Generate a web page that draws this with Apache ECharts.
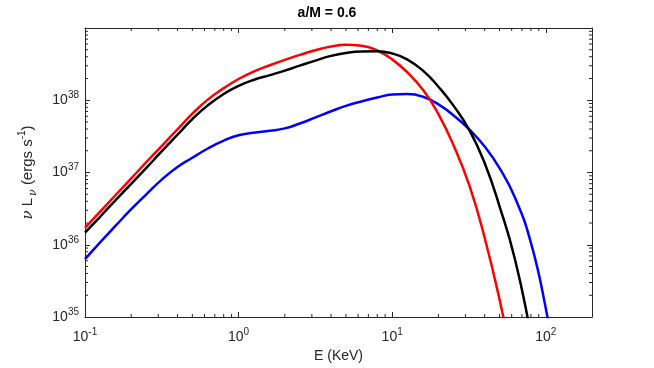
<!DOCTYPE html>
<html>
<head>
<meta charset="utf-8">
<script src="https://cdn.jsdelivr.net/npm/echarts@6/dist/echarts.min.js"></script>
<style>
  html, body { margin: 0; padding: 0; background: #fff; }
  #chart { width: 654px; height: 368px; }
</style>
</head>
<body>
<div id="chart"></div>
<script>
// photon energies (keV) shared by the three spectra
const energies = [0.1, 0.125, 0.16, 0.2, 0.25, 0.32, 0.4, 0.5, 0.63, 0.8, 1, 1.25, 1.6, 2, 2.5, 3.2, 4, 5, 6.3, 8, 10, 12.5, 16, 20, 25, 32, 40, 50, 63, 80, 100, 125]

// nu L_nu (erg/s)
const redValues = [1.71e36, 2.85e36, 5.0e36, 8.29e36, 1.38e37, 2.40e37, 3.95e37, 6.51e37, 1.02e38, 1.47e38, 1.97e38, 2.49e38, 3.05e38, 3.62e38, 4.24e38, 4.95e38, 5.53e38, 5.85e38, 5.70e38, 4.88e38, 3.68e38, 2.45e38, 1.36e38, 6.41e37, 2.43e37, 6.36e36, 1.25e36, 1.75e35, 1.58e34]
const blackValues = [1.47e36, 2.42e36, 4.24e36, 6.98e36, 1.15e37, 2.02e37, 3.33e37, 5.48e37, 8.49e37, 1.22e38, 1.58e38, 1.91e38, 2.23e38, 2.57e38, 3.01e38, 3.57e38, 4.11e38, 4.51e38, 4.73e38, 4.76e38, 4.44e38, 3.68e38, 2.53e38, 1.54e38, 8.49e37, 3.77e37, 1.35e37, 3.41e36, 6.31e35, 5.88e34, 5.66e33]
const blueValues = [6.31e35, 1.07e36, 1.88e36, 3.10e36, 4.95e36, 8.16e36, 1.19e37, 1.60e37, 2.15e37, 2.76e37, 3.28e37, 3.54e37, 3.77e37, 4.08e37, 4.76e37, 5.84e37, 7.04e37, 8.36e37, 9.62e37, 1.09e38, 1.20e38, 1.22e38, 1.11e38, 8.76e37, 6.21e37, 3.89e37, 2.29e37, 1.15e37, 4.51e36, 1.07e36, 1.32e35, 9.04e33]

// axis ranges and minor tick positions (2..9 in each decade)
const xRange = [0.1, 200]
const yRange = [1e35, 1e39]
const minorSteps = [2, 3, 4, 5, 6, 7, 8, 9]
const xDecades = [0.1, 1, 10, 100]
const yDecades = [1e35, 1e36, 1e37, 1e38]

const axisColor = '#262626'
const font = 'Liberation Sans, Arial, Helvetica, sans-serif'

const xMinor = []
xDecades.forEach(d => minorSteps.forEach(m => { if (d * m < xRange[1]) xMinor.push([d * m, yRange[0]]) }))
const yMinor = []
yDecades.forEach(d => minorSteps.forEach(m => { if (d * m < yRange[1]) yMinor.push([xRange[0], d * m]) }))

function pairs (xs, ys) {
  return ys.map((v, i) => [xs[i], v])
}

const topExp = Math.round(Math.log10(yRange[1]))

function powLabel (v) {
  const lg = Math.log10(v)
  const e = Math.round(lg)
  if (Math.abs(lg - e) > 1e-6) return ''
  if (e >= topExp) return ''
  return '{b|10}{s|' + e + '}'
}

const labelRich = {
  b: { fontSize: 14, lineHeight: 20, color: axisColor, fontFamily: font },
  s: { fontSize: 10, lineHeight: 10, verticalAlign: 'top', color: axisColor, fontFamily: font }
}

function baseAxis (extra) {
  return Object.assign({
    type: 'log',
    logBase: 10,
    axisLine: { show: true, lineStyle: { color: axisColor, width: 1 } },
    axisTick: { show: true, inside: true, length: 5, lineStyle: { color: axisColor } },
    splitLine: { show: false },
    minorTick: { show: false }
  }, extra)
}

function spectrum (name, values, color, z) {
  return {
    name: name,
    type: 'line',
    data: pairs(energies, values),
    smooth: 0.5,
    showSymbol: false,
    clip: true,
    lineStyle: { color: color, width: 2.5 },
    z: z
  }
}

const myChart = echarts.init(document.getElementById('chart'), null, { renderer: 'canvas' })

const option = {
  animation: false,
  backgroundColor: '#ffffff',
  title: {
    text: 'a/M = 0.6',
    left: 'center',
    top: 6,
    padding: [0, 0, 0, 22],
    textStyle: { fontSize: 14, fontWeight: 'bold', color: '#000', fontFamily: font }
  },
  grid: { left: 85, right: 62, top: 28, bottom: 45 },
  xAxis: [
    baseAxis({
      min: xRange[0],
      max: xRange[1],
      position: 'bottom',
      name: 'E (KeV)',
      nameLocation: 'middle',
      nameGap: 32,
      nameTextStyle: { fontSize: 14, color: axisColor, fontFamily: font },
      axisLabel: { formatter: powLabel, rich: labelRich, margin: 10 }
    }),
    baseAxis({
      min: xRange[0],
      max: xRange[1],
      position: 'top',
      axisLabel: { show: false }
    })
  ],
  yAxis: [
    baseAxis({
      min: yRange[0],
      max: yRange[1],
      position: 'left',
      name: '{i|ν} L{sub|ν} (ergs s{sup|-1})',
      nameLocation: 'middle',
      nameRotate: 90,
      nameGap: 46,
      nameTextStyle: {
        fontSize: 15,
        lineHeight: 22,
        color: axisColor,
        fontFamily: font,
        rich: {
          i: { fontSize: 15, lineHeight: 22, fontStyle: 'italic', fontFamily: 'DejaVu Serif, serif', color: axisColor },
          sub: { fontSize: 11, verticalAlign: 'bottom', lineHeight: 11, color: axisColor, fontFamily: 'DejaVu Serif, serif', fontStyle: 'italic', padding: [0, 0, 0, 2] },
          sup: { fontSize: 10, verticalAlign: 'top', lineHeight: 10, color: axisColor, fontFamily: font }
        }
      },
      axisLabel: { formatter: powLabel, rich: labelRich, margin: 6 }
    }),
    baseAxis({
      min: yRange[0],
      max: yRange[1],
      position: 'right',
      axisLabel: { show: false }
    })
  ],
  series: [
    spectrum('red', redValues, '#ff0000', 3),
    spectrum('black', blackValues, '#000000', 4),
    spectrum('blue', blueValues, '#0000ff', 2),
    {
      // minor ticks on bottom and top edges
      type: 'custom',
      silent: true,
      clip: false,
      data: xMinor,
      renderItem (params, api) {
        const b = api.coord([api.value(0), yRange[0]])
        const t = api.coord([api.value(0), yRange[1]])
        const st = { stroke: axisColor, lineWidth: 1 }
        return {
          type: 'group',
          children: [
            { type: 'line', shape: { x1: b[0], y1: b[1], x2: b[0], y2: b[1] - 3 }, style: st },
            { type: 'line', shape: { x1: t[0], y1: t[1], x2: t[0], y2: t[1] + 3 }, style: st }
          ]
        }
      }
    },
    {
      // minor ticks on left and right edges
      type: 'custom',
      silent: true,
      clip: false,
      data: yMinor,
      renderItem (params, api) {
        const l = api.coord([xRange[0], api.value(1)])
        const r = api.coord([xRange[1], api.value(1)])
        const st = { stroke: axisColor, lineWidth: 1 }
        return {
          type: 'group',
          children: [
            { type: 'line', shape: { x1: l[0], y1: l[1], x2: l[0] + 3, y2: l[1] }, style: st },
            { type: 'line', shape: { x1: r[0], y1: r[1], x2: r[0] - 3, y2: r[1] }, style: st }
          ]
        }
      }
    }
  ]
}

myChart.setOption(option)
</script>
</body>
</html>
